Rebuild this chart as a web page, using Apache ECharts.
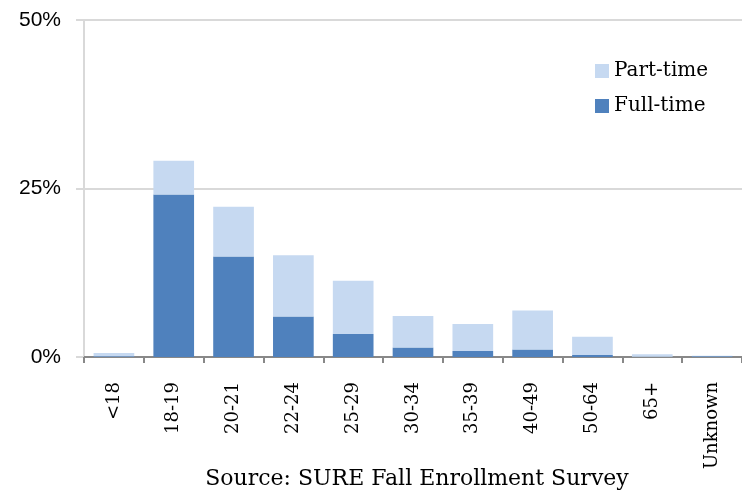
<!DOCTYPE html>
<html>
<head>
<meta charset="utf-8">
<script src="https://cdn.jsdelivr.net/npm/echarts@6/dist/echarts.min.js"></script>
<style>
  html, body { margin: 0; padding: 0; background: #fff; }
  #chart { width: 742px; height: 494px; }
</style>
</head>
<body>
<div id="chart"></div>
<script>
// age groups
const categories = ['<18', '18-19', '20-21', '22-24', '25-29', '30-34', '35-39', '40-49', '50-64', '65+', 'Unknown']
// share of enrollment (%)
const fullTime = [0.1, 24.1, 14.9, 6.0, 3.4, 1.4, 0.9, 1.1, 0.3, 0.05, 0.1]
const partTime = [0.5, 5.0, 7.4, 9.1, 7.9, 4.7, 4.0, 5.8, 2.7, 0.35, 0.1]
const yTicks = [0, 25, 50]

const chart = echarts.init(document.getElementById('chart'))

const option = {
  animation: false,
  title: {
    text: 'Source: SURE Fall Enrollment Survey',
    left: 412,
    textAlign: 'center',
    top: 463,
    textStyle: {
      fontFamily: 'DejaVu Serif',
      fontWeight: 'normal',
      fontSize: 22,
      color: '#000',
    },
  },
  legend: {
    orient: 'vertical',
    left: 590,
    top: 56,
    itemWidth: 14,
    itemHeight: 14,
    itemGap: 15,
    icon: 'rect',
    data: ['Part-time', 'Full-time'],
    textStyle: {
      fontFamily: 'DejaVu Serif',
      fontSize: 20,
      color: '#000',
    },
  },
  grid: {
    left: 84,
    right: 0,
    top: 20,
    bottom: 137,
    containLabel: false,
  },
  xAxis: {
    type: 'category',
    data: categories,
    axisLine: { lineStyle: { color: '#888', width: 2 } },
    axisTick: { show: true, length: 6, lineStyle: { color: '#888', width: 2 } },
    axisLabel: {
      rotate: 90,
      margin: 25,
      interval: 0,
      fontFamily: 'DejaVu Serif',
      fontSize: 18,
      color: '#000',
    },
  },
  yAxis: {
    type: 'value',
    min: yTicks[0],
    max: yTicks[yTicks.length - 1],
    interval: 25,
    axisLine: { show: true, lineStyle: { color: '#d9d9d9', width: 2 } },
    axisTick: { show: true, length: 8, inside: false, lineStyle: { color: '#d9d9d9', width: 2 } },
    splitLine: { lineStyle: { color: '#d9d9d9', width: 2 } },
    axisLabel: {
      formatter: v => v + '%',
      margin: 23,
      fontFamily: 'Liberation Sans',
      fontSize: 21,
      color: '#000',
    },
  },
  series: [
    {
      name: 'Full-time',
      type: 'bar',
      stack: 'total',
      barCategoryGap: '32%',
      itemStyle: { color: '#4f81bd' },
      data: fullTime,
    },
    {
      name: 'Part-time',
      type: 'bar',
      stack: 'total',
      barCategoryGap: '32%',
      itemStyle: { color: '#c6d9f1' },
      data: partTime,
    },
  ],
}

chart.setOption(option)
</script>
</body>
</html>
